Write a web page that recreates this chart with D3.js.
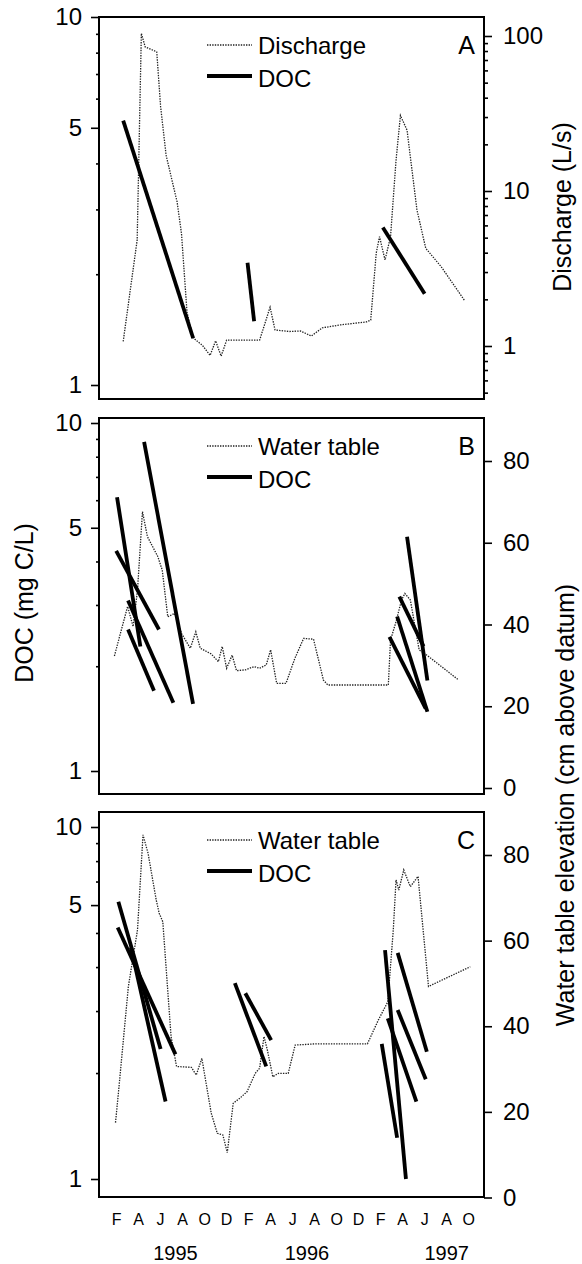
<!DOCTYPE html>
<html>
<head>
<meta charset="utf-8">
<title>DOC, discharge and water table</title>
<script src="https://cdnjs.cloudflare.com/ajax/libs/d3/7.8.5/d3.min.js"></script>
<style>
  html, body { margin: 0; padding: 0; background: white; }
  svg { display: block; font-family: 'Liberation Sans', Arial, sans-serif; }
  .dotted { fill: none; stroke: #222; stroke-width: 1.3; stroke-dasharray: 1.4,1.2; }
  .doc { stroke: black; stroke-width: 3.8; stroke-linecap: butt; }
</style>
</head>
<body>
<div id="chart"></div>
<script>
// time is in months since 1 Jan 1995 (0 = Jan 1995)
const monthTicks = [1, 3, 5, 7, 9, 11, 13, 15, 17, 19, 21, 23, 25, 27, 29, 31, 33];
const monthLabels = ["F", "A", "J", "A", "O", "D", "F", "A", "J", "A", "O", "D", "F", "A", "J", "A", "O"];
const yearLabels = ["1995", "1996", "1997"];
const yearPos = [6.35, 18.3, 31.0];

// panel A: stream discharge (L/s) and DOC segments
const dischargeA = [
  [1.6, 1.07], [2.87, 4.83], [3.25, 104], [3.6, 85], [4.65, 79], [5.0, 35], [5.5, 17],
  [6.5, 8.5], [6.9, 5.3], [7.4, 1.65], [7.95, 1.13], [8.8, 1.01], [9.5, 0.87], [10.0, 1.08],
  [10.5, 0.86], [11.0, 1.09], [14.0, 1.09], [14.95, 1.78], [15.4, 1.27], [16.7, 1.24],
  [17.7, 1.25], [18.7, 1.16], [19.7, 1.31], [21.4, 1.37], [23.7, 1.43], [24.1, 1.47],
  [24.6, 3.98], [24.9, 5.07], [25.4, 3.59], [25.9, 5.07], [26.4, 15.8], [26.8, 30.7],
  [27.4, 24.7], [28.3, 7.55], [29.1, 4.27], [30.5, 3.25], [32.6, 1.98]
];
const docA = [
  [[1.6, 5.23], [7.96, 1.34]],
  [[12.9, 2.15], [13.5, 1.49]],
  [[25.2, 2.68], [29.0, 1.77]]
];

// panel B: water table (cm above datum) and DOC segments
const waterB = [
  [0.8, 32.3], [2.0, 44.4], [2.5, 39.5], [2.9, 48.4], [3.35, 67.6], [3.8, 61.5], [4.75, 56.6],
  [5.15, 53.3], [5.65, 41.9], [6.26, 42.7], [6.9, 37.8], [7.7, 34.2], [8.2, 38.2], [8.6, 34.2],
  [9.6, 32.8], [10.25, 30.9], [10.6, 34.6], [11.0, 29.3], [11.5, 32.5], [11.9, 28.7],
  [12.7, 28.9], [13.5, 29.7], [14.0, 29.3], [14.6, 30.1], [15.0, 33.8], [15.55, 25.6],
  [16.4, 25.6], [17.2, 31.7], [18.0, 36.6], [18.9, 36.4], [19.8, 26.4], [20.2, 25.2],
  [25.7, 25.2], [25.9, 36.2], [26.4, 40.7], [26.9, 46.0], [27.2, 47.6], [27.7, 46.0],
  [28.5, 33.8], [29.2, 32.5], [32.1, 26.4]
];
const docB = [
  [[1.04, 6.12], [3.16, 2.28]],
  [[0.96, 4.29], [4.85, 2.55]],
  [[2.04, 3.09], [6.16, 1.57]],
  [[2.04, 2.55], [4.4, 1.70]],
  [[3.5, 8.83], [7.95, 1.56]],
  [[27.4, 4.71], [29.25, 1.82]],
  [[26.7, 3.17], [28.9, 2.28]],
  [[26.5, 2.78], [29.25, 1.48]],
  [[25.8, 2.43], [29.1, 1.51]]
];

// panel C
const waterC = [
  [0.9, 17.5], [1.16, 24.3], [2.07, 49.3], [2.9, 62.5], [3.4, 84.7], [3.86, 80.4], [4.6, 69.5],
  [4.87, 66.4], [5.2, 64.4], [5.95, 37.6], [6.45, 30.6], [7.8, 30.4], [8.24, 28.6], [8.75, 32.5],
  [9.6, 19.7], [10.15, 15.0], [10.66, 14.6], [11.06, 10.5], [11.6, 22.0], [12.2, 23.2],
  [12.85, 24.7], [13.6, 29.0], [14.0, 30.2], [14.4, 37.6], [14.7, 34.5], [15.2, 28.2],
  [15.7, 29.0], [16.6, 29.0], [17.23, 35.6], [19.1, 35.9], [23.8, 35.9], [24.8, 41.5],
  [25.65, 45.7], [26.15, 62.5], [26.4, 74.2], [26.65, 71.8], [27.1, 76.5], [27.7, 72.6],
  [28.4, 75.0], [29.35, 49.3], [33.15, 53.9]
];
const docC = [
  [[1.16, 6.13], [5.0, 2.34]],
  [[1.1, 5.18], [6.35, 2.26]],
  [[2.3, 4.55], [5.45, 1.66]],
  [[11.75, 3.60], [14.6, 2.09]],
  [[12.7, 3.37], [15.05, 2.48]],
  [[25.4, 4.47], [27.3, 1.0]],
  [[25.1, 2.42], [26.5, 1.31]],
  [[26.55, 4.39], [29.2, 2.30]],
  [[26.55, 3.02], [29.1, 1.92]],
  [[25.65, 2.86], [28.25, 1.66]]
];

// left axis ticks (C's "5" label sits one minor tick higher in the original)
const leftTicksAB = [1, 5, 10];
const leftMinorAB = [2, 3, 4, 6, 7, 8, 9];
const leftTicksC = [1, 6, 10];
const leftMinorC = [2, 3, 4, 5, 7, 8, 9];
const leftLabels = ["1", "5", "10"];
const dischargeTicks = [1, 10, 100];
const dischargeMinor = [0.5, 0.6, 0.7, 0.8, 0.9, 2, 3, 4, 5, 6, 7, 8, 9, 20, 30, 40, 50, 60, 70, 80, 90];
const waterTicks = [0, 20, 40, 60, 80];

const W = 582, H = 1264;
const x0 = 99, x1 = 484;
const x = d3.scaleLinear().domain([-0.6, 34.35]).range([x0, x1 - 0.5]);

const svg = d3.select("#chart").append("svg").attr("width", W).attr("height", H);

const panels = [
  { letter: "A", top: 17, bottom: 399, series: dischargeA, docs: docA, name: "Discharge",
    yl: d3.scaleLog().domain([1, 10]).range([385, 17]), lt: leftTicksAB, lm: leftMinorAB,
    yr: d3.scaleLog().domain([1, 100]).range([346, 36]), rt: dischargeTicks, rm: dischargeMinor },
  { letter: "B", top: 418, bottom: 794, series: waterB, docs: docB, name: "Water table",
    yl: d3.scaleLog().domain([1, 10]).range([771, 423]), lt: leftTicksAB, lm: leftMinorAB,
    yr: d3.scaleLinear().domain([0, 80]).range([788, 461]), rt: waterTicks, rm: [] },
  { letter: "C", top: 812, bottom: 1197, series: waterC, docs: docC, name: "Water table",
    yl: d3.scaleLog().domain([1, 10]).range([1179, 827]), lt: leftTicksC, lm: leftMinorC,
    yr: d3.scaleLinear().domain([0, 80]).range([1197.5, 855]), rt: waterTicks, rm: [] }
];

panels.forEach(p => {
  const g = svg.append("g");

  // left axis (DOC, log)
  g.append("g").attr("transform", `translate(${x0},0)`)
    .call(d3.axisLeft(p.yl).tickValues(p.lt).tickSize(8).tickPadding(9)
      .tickFormat((d, i) => leftLabels[i]));
  g.append("g").attr("transform", `translate(${x0},0)`)
    .call(d3.axisLeft(p.yl).tickValues(p.lm).tickSize(3).tickFormat(""));

  // right axis
  g.append("g").attr("transform", `translate(${x1},0)`)
    .call(d3.axisRight(p.yr).tickValues(p.rt).tickSize(8).tickPadding(11)
      .tickFormat(d3.format("d")));
  if (p.rm.length) {
    g.append("g").attr("transform", `translate(${x1},0)`)
      .call(d3.axisRight(p.yr).tickValues(p.rm).tickSize(4).tickFormat(""));
  }

  g.selectAll(".domain").remove();
  g.selectAll(".tick line").attr("stroke", "black").attr("stroke-width", 1.6);
  g.selectAll(".tick text").attr("font-size", 24).attr("fill", "black")
    .attr("font-family", "'Liberation Sans', Arial, sans-serif");

  // frame
  g.append("rect").attr("x", x0).attr("y", p.top)
    .attr("width", x1 - x0).attr("height", p.bottom - p.top)
    .attr("fill", "none").attr("stroke", "black").attr("stroke-width", 2);

  // dotted series
  const line = d3.line().x(d => x(d[0])).y(d => p.yr(d[1]));
  g.append("path").datum(p.series).attr("class", "dotted").attr("d", line);

  // DOC segments
  g.selectAll(".doc").data(p.docs).enter().append("line")
    .attr("class", "doc")
    .attr("x1", d => x(d[0][0])).attr("y1", d => p.yl(d[0][1]))
    .attr("x2", d => x(d[1][0])).attr("y2", d => p.yl(d[1][1]));

  // legend
  const lx = x0 + 108, ly = p.top + 28;
  g.append("line").attr("class", "dotted").attr("x1", lx).attr("x2", lx + 45)
    .attr("y1", ly).attr("y2", ly);
  g.append("text").attr("x", lx + 51).attr("y", ly + 3).attr("dominant-baseline", "middle")
    .attr("font-size", 24).text(p.name);
  g.append("line").attr("class", "doc").attr("x1", lx).attr("x2", lx + 45)
    .attr("y1", ly + 31).attr("y2", ly + 31);
  g.append("text").attr("x", lx + 51).attr("y", ly + 36).attr("dominant-baseline", "middle")
    .attr("font-size", 24).text("DOC");

  g.append("text").attr("x", x1 - 9).attr("y", p.top + 30).attr("text-anchor", "end")
    .attr("dominant-baseline", "middle").attr("font-size", 25).text(p.letter);
});

// month labels and years under panel C
svg.append("g").selectAll("text").data(monthTicks).enter().append("text")
  .attr("x", d => x(d)).attr("y", 1221).attr("text-anchor", "middle")
  .attr("dominant-baseline", "middle").attr("font-size", 16)
  .text((d, i) => monthLabels[i]);
svg.append("g").selectAll("text").data(yearPos).enter().append("text")
  .attr("x", d => x(d)).attr("y", 1255).attr("text-anchor", "middle")
  .attr("dominant-baseline", "middle").attr("font-size", 20)
  .text((d, i) => yearLabels[i]);

// axis titles
svg.append("text").attr("transform", "translate(564,207) rotate(-90)")
  .attr("text-anchor", "middle").attr("dominant-baseline", "middle")
  .attr("font-size", 25).text("Discharge (L/s)");
svg.append("text").attr("transform", "translate(26,603) rotate(-90)")
  .attr("text-anchor", "middle").attr("dominant-baseline", "middle")
  .attr("font-size", 25).text("DOC (mg C/L)");
svg.append("text").attr("transform", "translate(567,805) rotate(-90)")
  .attr("text-anchor", "middle").attr("dominant-baseline", "middle")
  .attr("font-size", 25).text("Water table elevation (cm above datum)");
</script>
</body>
</html>
